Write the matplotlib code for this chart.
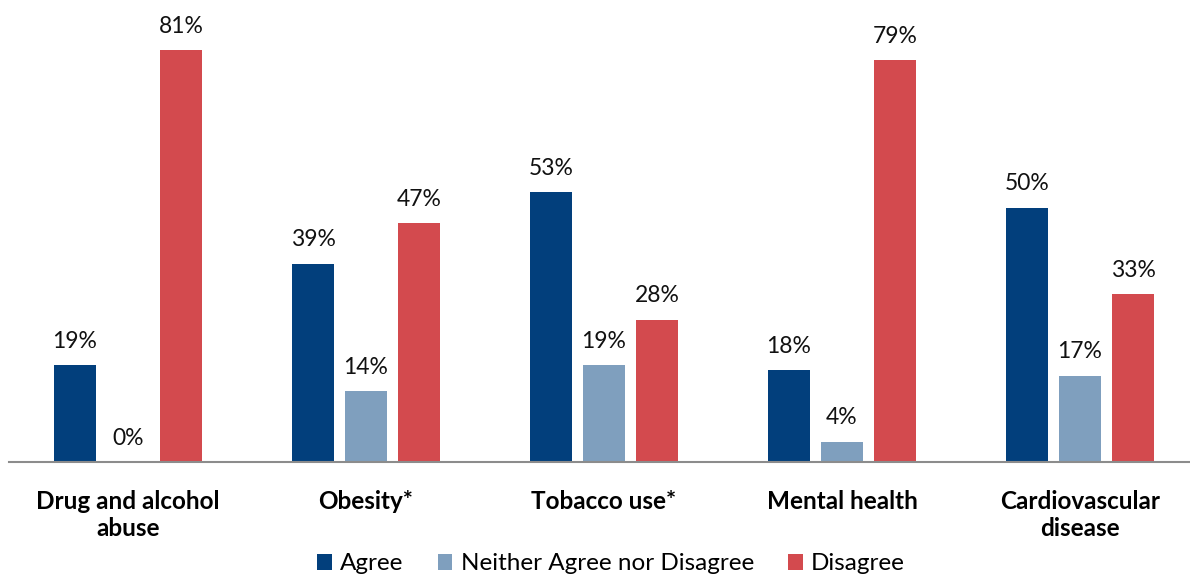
import matplotlib
matplotlib.use("Agg")
import matplotlib.pyplot as plt
import numpy as np
from matplotlib.patches import Patch

categories = ["Drug and alcohol\nabuse", "Obesity*", "Tobacco use*", "Mental health", "Cardiovascular\ndisease"]
series_names = ["Agree", "Neither Agree nor Disagree", "Disagree"]
agree = [19, 39, 53, 18, 50]
neither = [0, 14, 19, 4, 17]
disagree = [81, 47, 28, 79, 33]
colors = ["#023F7C", "#7F9FBE", "#D34A4E"]

plt.rcParams['font.family'] = ['Lato', 'DejaVu Sans']

W, H = 1190, 577
fig = plt.figure(figsize=(W / 100, H / 100), dpi=100)
left_px, base_px = 9, 462
ax = fig.add_axes([left_px / W, 1 - base_px / H, (W - left_px) / W, base_px / H])

x = np.arange(len(categories))
group_px = 238.0
bw = 42 / group_px
off = 53 / group_px
for i, (vals, c) in enumerate(zip([agree, neither, disagree], colors)):
    pos = x + (i - 1) * off
    ax.bar(pos, vals, width=bw, color=c, zorder=2)
    for p, v in zip(pos, vals):
        ax.text(p, v + 2.6, f"{v}%", ha="center", va="bottom", fontsize=16.5, color="#111111")

ax.set_xlim(-0.5, -0.5 + (W - left_px) / group_px)
ax.set_ylim(0, base_px / 5.086)
for s in ["top", "right", "left"]:
    ax.spines[s].set_visible(False)
ax.spines["bottom"].set_color("#8c8c8c")
ax.spines["bottom"].set_linewidth(1.5)
ax.set_yticks([])
ax.set_xticks(x)
ax.set_xticklabels(categories, fontsize=17.5, fontweight="bold", linespacing=1.2)
ax.tick_params(axis="x", length=0, pad=20)

handles = [Patch(facecolor=c, label=n) for c, n in zip(colors, series_names)]
fig.legend(handles=handles, loc="center", bbox_to_anchor=(611 / W, 1 - 564 / H), ncol=3,
           frameon=False, fontsize=17.5, handlelength=0.6, handleheight=0.6,
           handletextpad=0.35, columnspacing=1.4, borderpad=0.1)

fig.savefig("out.png", dpi=100)
